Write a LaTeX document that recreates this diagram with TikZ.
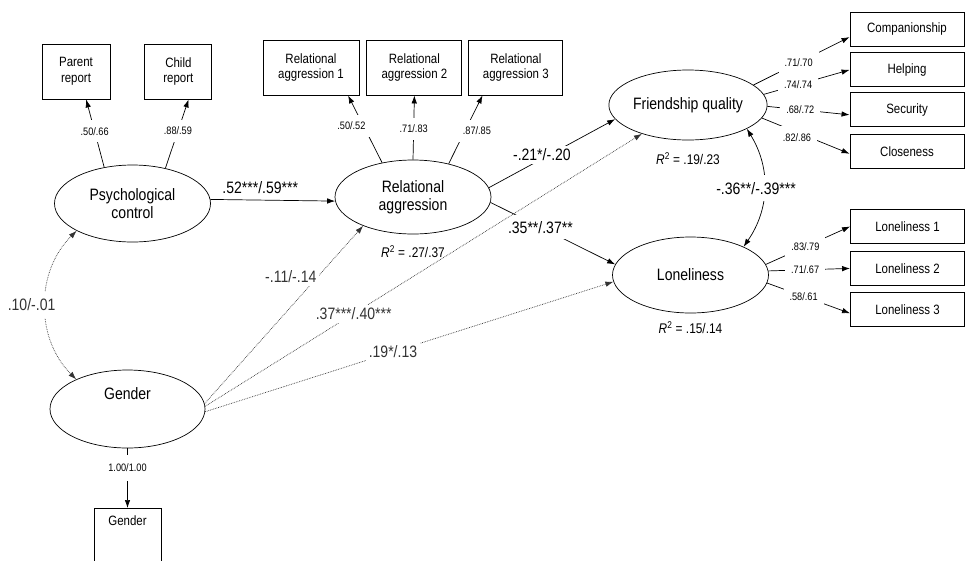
\documentclass[tikz,border=0pt]{standalone}
\usepackage{fontspec}
\setmainfont{Liberation Sans}[FakeStretch=0.85]
\usetikzlibrary{shapes.geometric,arrows.meta,positioning}

\newcommand{\latfont}{\fontsize{16.5}{17.5}\selectfont}
\newcommand{\boxfont}{\fontsize{13.5}{15.5}\selectfont}
\newcommand{\coeffont}{\fontsize{16.5}{18}\selectfont}
\newcommand{\loadfont}{\fontsize{10.8}{12}\selectfont}
\newcommand{\rsqfont}{\fontsize{14}{16}\selectfont}

\begin{document}
\begin{tikzpicture}[x=1pt, y=-1pt,
  latent/.style={draw, ellipse, line width=0.7pt, minimum width=156pt, inner sep=1pt, align=center, font=\latfont},
  obs/.style={draw, rectangle, line width=0.9pt, align=center, font=\boxfont, inner sep=1pt},
  wide/.style={minimum width=114pt, minimum height=34pt},
  arr/.style={-{Latex[length=8pt,width=5.5pt]}, line width=0.7pt},
  dotarr/.style={arr, densely dotted, black!80},
  twoway/.style={{Latex[length=8pt,width=5.5pt]}-{Latex[length=8pt,width=5.5pt]}, line width=0.7pt},
  load/.style={fill=white, font=\loadfont, inner xsep=6pt, inner ysep=7pt},
  coef/.style={fill=white, font=\coeffont, inner sep=3pt},
  rsq/.style={font=\rsqfont, inner sep=1pt}]
\useasboundingbox (0,0) rectangle (965,560);

% latent variables
\node[latent, minimum height=77pt] (pc) at (132.5,203.5) {Psychological\\control};
\node[latent, minimum height=74pt] (ra) at (413,197) {Relational\\aggression};
\node[latent, minimum height=70pt] (fq) at (688,105) {Friendship quality};
\node[latent, minimum height=76pt] (lone) at (690.5,275) {Loneliness};
\node[latent, minimum height=78pt, minimum width=155pt, text height=12pt, text depth=32pt] (gen) at (127.5,409) {Gender};

% indicators
\node[obs, minimum width=68pt, minimum height=55pt] (par) at (76,71.5) {Parent\\report};
\node[obs, minimum width=67pt, minimum height=55pt, right=34pt of par] (chi) {Child\\report};
\node[obs, minimum width=96pt, minimum height=55pt] (ra1) at (311,67.5) {Relational\\aggression 1};
\node[obs, minimum width=95pt, minimum height=55pt, right=7pt of ra1] (ra2) {Relational\\aggression 2};
\node[obs, minimum width=94pt, minimum height=55pt, right=6pt of ra2] (ra3) {Relational\\aggression 3};
\node[obs, wide] (comp) at (907,29) {Companionship};
\node[obs, wide, below=6pt of comp] (help) {Helping};
\node[obs, wide, below=5pt of help] (sec) {Security};
\node[obs, wide, below=7pt of sec] (clo) {Closeness};
\node[obs, wide] (l1) at (907.5,226.5) {Loneliness 1};
\node[obs, wide, below=7pt of l1] (l2) {Loneliness 2};
\node[obs, wide, below=6pt of l2] (l3) {Loneliness 3};
\node[obs, minimum width=67pt, text height=16pt, text depth=52pt, anchor=north] (genobs) at (127.5,508) {Gender};

% explained variance
\node[rsq, below=10pt of ra] (rsqra) {{\itshape R}\textsuperscript{2} = .27/.37};
\node[rsq, below=11pt of fq] (rsqfq) {{\itshape R}\textsuperscript{2} = .19/.23};
\node[rsq, below=7pt of lone] (rsqlone) {{\itshape R}\textsuperscript{2} = .15/.14};

% loadings
\draw[arr] (pc.128) -- node[load, pos=.53] {.50/.66} (par.-70);
\draw[arr] (pc.47) -- node[load, pos=.54] {.88/.59} (chi.-70);
\draw[arr] (ra.132) -- node[load, pos=.55, xshift=-12pt] {.50/.52} (ra1.-37);
\draw[arr] (ra.90) -- node[load, pos=.48] {.71/.83} (ra2.south);
\draw[arr] (ra.43) -- node[load, pos=.48, xshift=12pt] {.87/.85} (ra3.-140);
\draw[arr] (fq.17) -- node[load, pos=.47] {.71/.70} (comp.188);
\draw[arr] (fq.8) -- node[load, pos=.4] {.74/.74} (help.west);
\draw[arr] (fq.-1) -- node[load, pos=.4] {.68/.72} (sec.185);
\draw[arr] (fq.-10) -- node[load, pos=.4, yshift=-5pt] {.82/.86} (clo.182);
\draw[arr] (lone.8) -- node[load, pos=.47] {.83/.79} (l1.west);
\draw[arr] (lone.3) -- node[load, pos=.45] {.71/.67} (l2.west);
\draw[arr] (lone.-6) -- node[load, pos=.44] {.58/.61} (l3.184);
\draw[arr] (gen.south) -- node[load, pos=.33, inner ysep=9pt] {1.00/1.00} (genobs.north);

% structural paths
\draw[arr] (pc.3) -- node[coef, fill=none, above=3pt, pos=.4] {.52***/.59***} (ra.183);
\draw[arr] (ra.7) -- node[coef, pos=.42, yshift=4pt] {-.21*/-.20} (fq.191);
\draw[arr] (ra.-4) -- node[coef, inner ysep=6pt, pos=.4] {.35**/.37**} (lone.172);
\draw[dotarr] (gen.4) -- node[coef, pos=.67, xshift=-20pt, yshift=8pt] {-.11/-.14} (ra.210);
\draw[dotarr] (gen.2) -- node[coef, pos=.34] {.37***/.40***} (fq.212);
\draw[dotarr] (gen.-2) -- node[coef, pos=.46] {.19*/.13} (lone.185);

% covariances
\draw[twoway, densely dotted, black!80] (pc.206) to[bend right=45] node[coef, xshift=-14pt, inner ysep=7pt] {.10/-.01} (gen.150);
\draw[twoway] (fq.-22) to[bend left=33] node[coef, xshift=-8pt, inner ysep=7pt] {-.36**/-.39***} (lone.28);
\end{tikzpicture}
\end{document}
